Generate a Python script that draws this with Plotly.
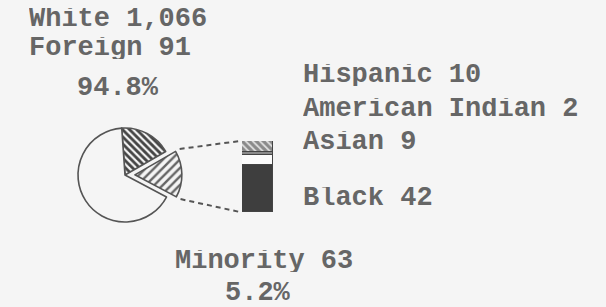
import math
import plotly.graph_objects as go

# ---------------- data ----------------
pie_labels = ["Foreign", "Minority", "White"]
pie_counts = [91, 63, 1066]
# slice sizes as they are drawn in the picture (the original drawing is not to scale)
pie_drawn_share = [64, 58, 238]
share_labels = ["94.8%", "5.2%"]

minority_groups = ["Black", "Asian", "American Indian", "Hispanic"]
minority_counts = [42, 9, 2, 10]

# ---------------- geometry / style ----------------
W, H = 606, 307
BG = "#f5f5f5"
INK = "#555555"
FONT = dict(family="Liberation Mono", size=27, color="#666666", weight="bold")

cx, cy, R = 125.0, 175.0, 47.0   # pie centre / radius in pixels
PULL = 0.21
ROT = -4

box = 2 * R * (1 + PULL)
pie_dom_x = [(cx - box / 2) / W, (cx + box / 2) / W]
pie_dom_y = [1 - (cy + box / 2) / H, 1 - (cy - box / 2) / H]

bar_left, bar_right, bar_top, bar_bottom = 242.0, 273.0, 141.0, 212.0
bar_dom_x = [bar_left / W, bar_right / W]
bar_dom_y = [1 - bar_bottom / H, 1 - bar_top / H]

fig = go.Figure()

fig.add_trace(go.Pie(
    labels=pie_labels,
    values=pie_drawn_share,
    customdata=pie_counts,
    sort=False,
    direction="clockwise",
    rotation=ROT,
    pull=[0, PULL, 0],
    textinfo="none",
    hoverinfo="skip",
    domain=dict(x=pie_dom_x, y=pie_dom_y),
    marker=dict(
        colors=[BG, BG, BG],
        line=dict(color=INK, width=1.6),
        pattern=dict(
            shape=["\\", "/", ""],
            fgcolor=["#444444", "#666666", INK],
            bgcolor=[BG, BG, BG],
            size=[5, 6, 6],
            solidity=[0.55, 0.4, 0.3],
        ),
    ),
    showlegend=False,
))

bar_fill = ["#3e3e3e", "#fbfbfb", "#8a8a8a", BG]
for name, val, col in zip(minority_groups, minority_counts, bar_fill):
    marker = dict(color=col, line=dict(color="#444444", width=1))
    if name == "Hispanic":
        marker["pattern"] = dict(shape="\\", fgcolor="#333333", bgcolor="#e0e0e0",
                                 size=5, solidity=0.65)
    fig.add_trace(go.Bar(
        x=["Minority"], y=[val], name=name, marker=marker,
        width=1, xaxis="x2", yaxis="y2", hoverinfo="skip", showlegend=False,
    ))

# dashed connectors from the exploded slice to the bar
cum = [0]
for v in pie_drawn_share:
    cum.append(cum[-1] + v)
tot = cum[-1]
a0 = math.radians(ROT + 360 * cum[1] / tot)
a1 = math.radians(ROT + 360 * cum[2] / tot)
am = (a0 + a1) / 2
ex = cx + PULL * R * math.sin(am)
ey = cy - PULL * R * math.cos(am)
rr = R * 1.1
p_top = (ex + rr * math.sin(a0), ey - rr * math.cos(a0))
p_bot = (ex + rr * math.sin(a1), ey - rr * math.cos(a1))
shapes = []
for (px, py), (qx, qy) in [(p_top, (bar_left - 2, bar_top)), (p_bot, (bar_left - 2, bar_bottom))]:
    shapes.append(dict(type="line", xref="paper", yref="paper",
                       x0=px / W, y0=1 - py / H, x1=qx / W, y1=1 - qy / H,
                       line=dict(color=INK, width=2, dash="5px,4px")))

# text labels
texts = [
    (f"{pie_labels[2]} {pie_counts[2]:,}", 28, 19),
    (f"{pie_labels[0]} {pie_counts[0]}", 28, 48),
    (share_labels[0], 76, 88),
    (f"{minority_groups[3]} {minority_counts[3]}", 302, 75),
    (f"{minority_groups[2]} {minority_counts[2]}", 302, 109),
    (f"{minority_groups[1]} {minority_counts[1]}", 302, 142),
    (f"{minority_groups[0]} {minority_counts[0]}", 302, 198),
    (f"{pie_labels[1]} {pie_counts[1]}", 174, 261),
    (share_labels[1], 224, 293),
]
annotations = [dict(text=t, x=x / W, y=1 - y / H, xref="paper", yref="paper",
                    xanchor="left", yanchor="middle", showarrow=False, font=FONT,
                    height=22, valign="middle", borderpad=0)
               for t, x, y in texts]

fig.update_layout(
    width=W, height=H,
    margin=dict(l=0, r=0, t=0, b=0),
    paper_bgcolor=BG, plot_bgcolor=BG,
    barmode="stack", bargap=0,
    showlegend=False,
    xaxis2=dict(domain=bar_dom_x, range=[-0.5, 0.5], visible=False, fixedrange=True),
    yaxis2=dict(domain=bar_dom_y, range=[0, sum(minority_counts)], visible=False,
                anchor="x2", fixedrange=True),
    xaxis=dict(visible=False), yaxis=dict(visible=False),
    shapes=shapes,
    annotations=annotations,
)

fig.write_html("out.html", config={"displayModeBar": False})

# remove the browser's default page margin so the figure sits at the window origin
with open("out.html", encoding="utf-8") as f:
    html = f.read()
html = html.replace("<head>", "<head><style>html,body{margin:0;padding:0;background:%s;}</style>" % BG, 1)
with open("out.html", "w", encoding="utf-8") as f:
    f.write(html)
